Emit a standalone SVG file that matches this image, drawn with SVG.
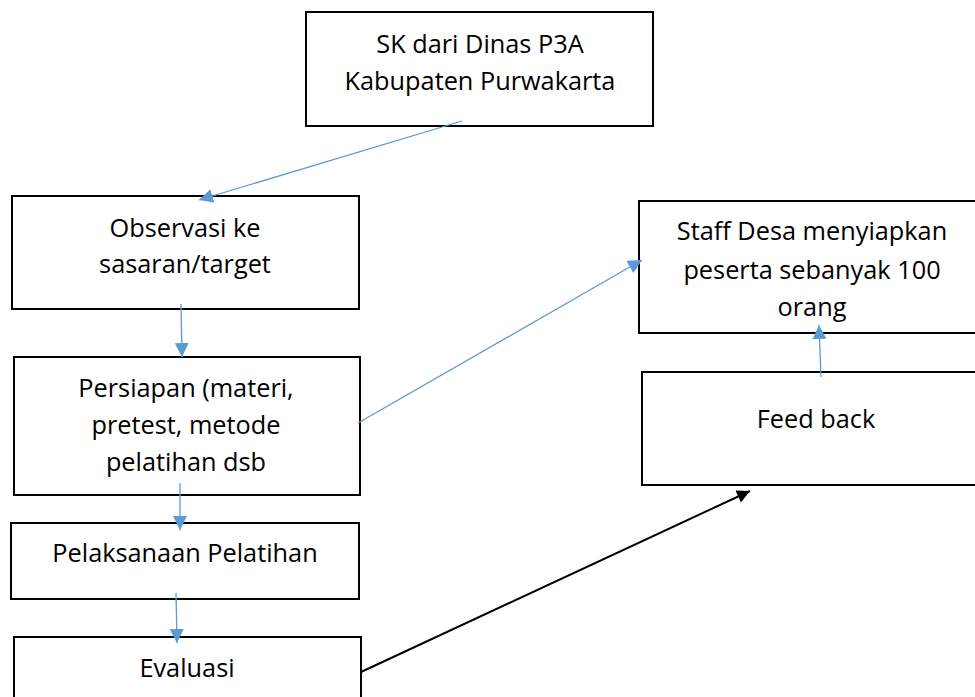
<svg xmlns="http://www.w3.org/2000/svg" width="975" height="697" viewBox="0 0 975 697">
<style>
.box{fill:#fff;stroke:#000;stroke-width:2}
.t{font-family:"Open Sans","Liberation Sans",Arial,sans-serif;font-size:25.3px;fill:#000;text-anchor:middle}
.blue{stroke:#5B9BD5;stroke-width:1.3;fill:none}
.blk{stroke:#000;stroke-width:2;fill:none}
</style>
<defs>
<marker id="ab" viewBox="0 0 10 10" refX="10" refY="5" markerWidth="14" markerHeight="14" markerUnits="userSpaceOnUse" orient="auto"><path d="M0,0L10,5L0,10z" fill="#5B9BD5"/></marker>
<marker id="ak" viewBox="0 0 10 10" refX="10" refY="5" markerWidth="15" markerHeight="13" markerUnits="userSpaceOnUse" orient="auto"><path d="M0,0L10,5L0,10z" fill="#000"/></marker>
</defs>
<rect width="975" height="697" fill="#fff"/>
<g id="sk"><rect class="box" x="306" y="12" width="347" height="114"/>
<text class="t" x="480" y="53">SK dari Dinas P3A</text><text class="t" x="480" y="90">Kabupaten Purwakarta</text></g>
<g id="observasi"><rect class="box" x="12" y="196" width="347" height="113"/>
<text class="t" x="185" y="237">Observasi ke</text><text class="t" x="185" y="273">sasaran/target</text></g>
<g id="persiapan"><rect class="box" x="14" y="357" width="346" height="138"/>
<text class="t" x="186" y="397">Persiapan (materi,</text><text class="t" x="186" y="434">pretest, metode</text><text class="t" x="186" y="471">pelatihan dsb</text></g>
<g id="pelaksanaan"><rect class="box" x="11" y="523" width="348" height="76"/>
<text class="t" x="185" y="562">Pelaksanaan Pelatihan</text></g>
<g id="evaluasi"><rect class="box" x="14" y="637" width="347" height="70"/>
<text class="t" x="187" y="677">Evaluasi</text></g>
<g id="staff"><rect class="box" x="639" y="201" width="345" height="132"/>
<text class="t" x="812" y="240">Staff Desa menyiapkan</text><text class="t" x="812" y="279">peserta sebanyak 100</text><text class="t" x="812" y="316">orang</text></g>
<g id="feedback"><rect class="box" x="642" y="372" width="345" height="113"/>
<text class="t" x="816" y="428">Feed back</text></g>
<g id="connectors">
<line class="blue" x1="462" y1="121" x2="199" y2="200" marker-end="url(#ab)"/>
<line class="blue" x1="181" y1="304" x2="182" y2="357" marker-end="url(#ab)"/>
<line class="blue" x1="358" y1="423" x2="642" y2="260" marker-end="url(#ab)"/>
<line class="blue" x1="180" y1="483" x2="180" y2="530" marker-end="url(#ab)"/>
<line class="blue" x1="176" y1="593" x2="177" y2="643" marker-end="url(#ab)"/>
<line class="blue" x1="821" y1="377" x2="819" y2="325" marker-end="url(#ab)"/>
<line class="blk" x1="361" y1="672" x2="750" y2="491" marker-end="url(#ak)"/>
</g>
</svg>
